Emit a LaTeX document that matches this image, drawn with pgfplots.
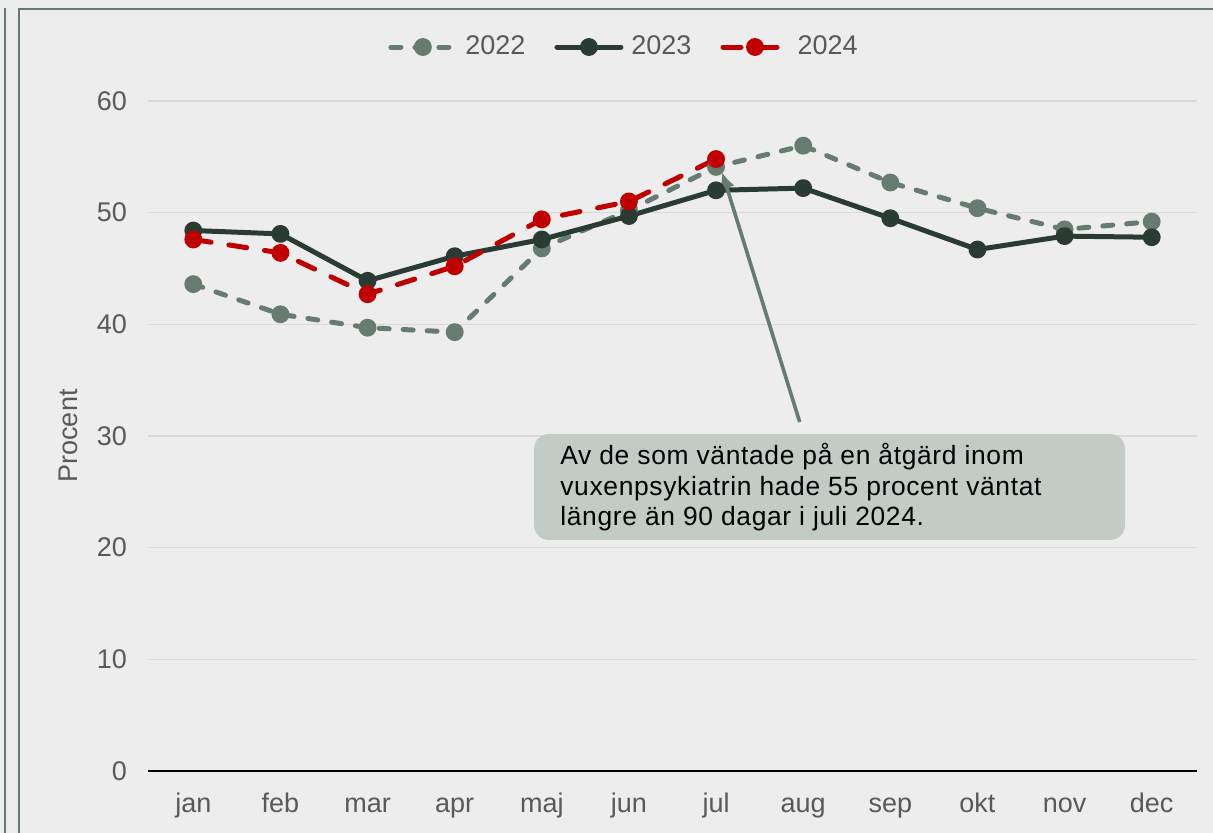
\documentclass[border=0pt]{standalone}
\usepackage{fontspec}
\setmainfont{Liberation Sans}
\usepackage{pgfplots}
\pgfplotsset{compat=1.18}
\usetikzlibrary{arrows.meta}
\definecolor{bg}{HTML}{EDEDED}
\definecolor{framec}{HTML}{637A6F}
\definecolor{c22}{HTML}{667C71}
\definecolor{c23}{HTML}{2A3B33}
\definecolor{c24}{HTML}{C00000}
\definecolor{txt}{HTML}{595959}
\definecolor{gridc}{HTML}{D9D9D9}
\definecolor{boxc}{HTML}{C2CBC5}

\pgfplotstableread{
x y22 y23
0 43.6 48.4
1 40.9 48.1
2 39.7 43.9
3 39.3 46.1
4 46.8 47.6
5 50.2 49.7
6 54.1 52.0
7 56.0 52.2
8 52.7 49.5
9 50.4 46.7
10 48.5 47.9
11 49.2 47.8
}\datatab
\pgfplotstableread{
x y24
0 47.6
1 46.4
2 42.7
3 45.2
4 49.4
5 51.0
6 54.8
}\datatabb

\begin{document}
\begin{tikzpicture}
\useasboundingbox (-74pt,-31pt) rectangle (532.5pt,385.5pt);
\fill[bg] (-74pt,-31pt) rectangle (532.5pt,385.5pt);
\draw[framec,line width=1pt] (-71.5pt,-32pt) -- (-71.5pt,381.5pt);
\draw[framec,line width=1pt] (-64.5pt,-32pt) -- (-64.5pt,381pt) -- (534pt,381pt);
\begin{axis}[
  scale only axis, width=524.5pt, height=335pt,
  xmin=-0.52, xmax=11.52, ymin=0, ymax=60,
  axis line style={draw=none},
  major tick length=0pt,
  xtick={0,...,11},
  xticklabels={jan,feb,mar,apr,maj,jun,jul,aug,sep,okt,nov,dec},
  ytick={0,10,...,60},
  ymajorgrids, grid style={gridc, line width=0.8pt},
  /pgf/number format/assume math mode=true,
  tick label style={font=\fontsize{13.5}{16}\selectfont, text=txt},
  yticklabel style={xshift=-7pt},
  xticklabel style={anchor=base, yshift=-21pt},
  ylabel={Procent},
  every axis y label/.style={at={(axis description cs:-0.0763,0.5)},rotate=90,anchor=center},
  ylabel style={font=\fontsize{13.5}{16}\selectfont, text=txt},
  legend columns=3,
  legend style={at={(0.4547,1.0806)}, anchor=center, draw=none, fill=none,
    font=\fontsize{13.5}{16}\selectfont, text=txt,
    /tikz/every odd column/.append style={column sep=2pt},
    /tikz/every even column/.append style={column sep=12.5pt}},
  legend image code/.code={\draw[mark repeat=2,mark phase=2,#1] plot coordinates {(0pt,0pt) (16pt,0pt) (32pt,0pt)};},
  clip=false,
]
\draw[black,line width=1pt] (axis cs:-0.52,0) -- (axis cs:11.52,0);
\addplot[c22, line width=2.5pt, line cap=round, dash pattern=on 5pt off 7pt, mark=*, mark size=3.2pt, mark options={solid, fill=c22, draw=c22}] table[x=x,y=y22] {\datatab};
\addlegendentry{2022}
\addplot[c23, line width=2.5pt, line cap=round, line join=round, mark=*, mark size=3.2pt, mark options={solid, fill=c23, draw=c23}] table[x=x,y=y23] {\datatab};
\addlegendentry{2023}
\addplot[c24, line width=2.5pt, line cap=round, dash pattern=on 9pt off 9pt, mark=*, mark size=3.2pt, mark options={solid, fill=c24, draw=c24}] table[x=x,y=y24] {\datatabb};
\addlegendentry{2024}
\draw[c22, line width=1.8pt, -{Latex[length=8pt,width=8pt]}] (axis cs:6.96,31.25) -- (axis cs:6.07,53.6);
\end{axis}
\fill[boxc, rounded corners=7.5pt] (193pt,115.5pt) rectangle (488.5pt,168.5pt);
\begin{scope}[every node/.style={anchor=base west, inner sep=0pt, font=\fontsize{13.2}{15}\selectfont\addfontfeatures{LetterSpace=2.5}}]
\node at (206pt,153pt) {Av de som väntade på en åtgärd inom};
\node at (206pt,137.8pt) {vuxenpsykiatrin hade 55 procent väntat};
\node at (206pt,122.8pt) {längre än 90 dagar i juli 2024.};
\end{scope}
\end{tikzpicture}
\end{document}
